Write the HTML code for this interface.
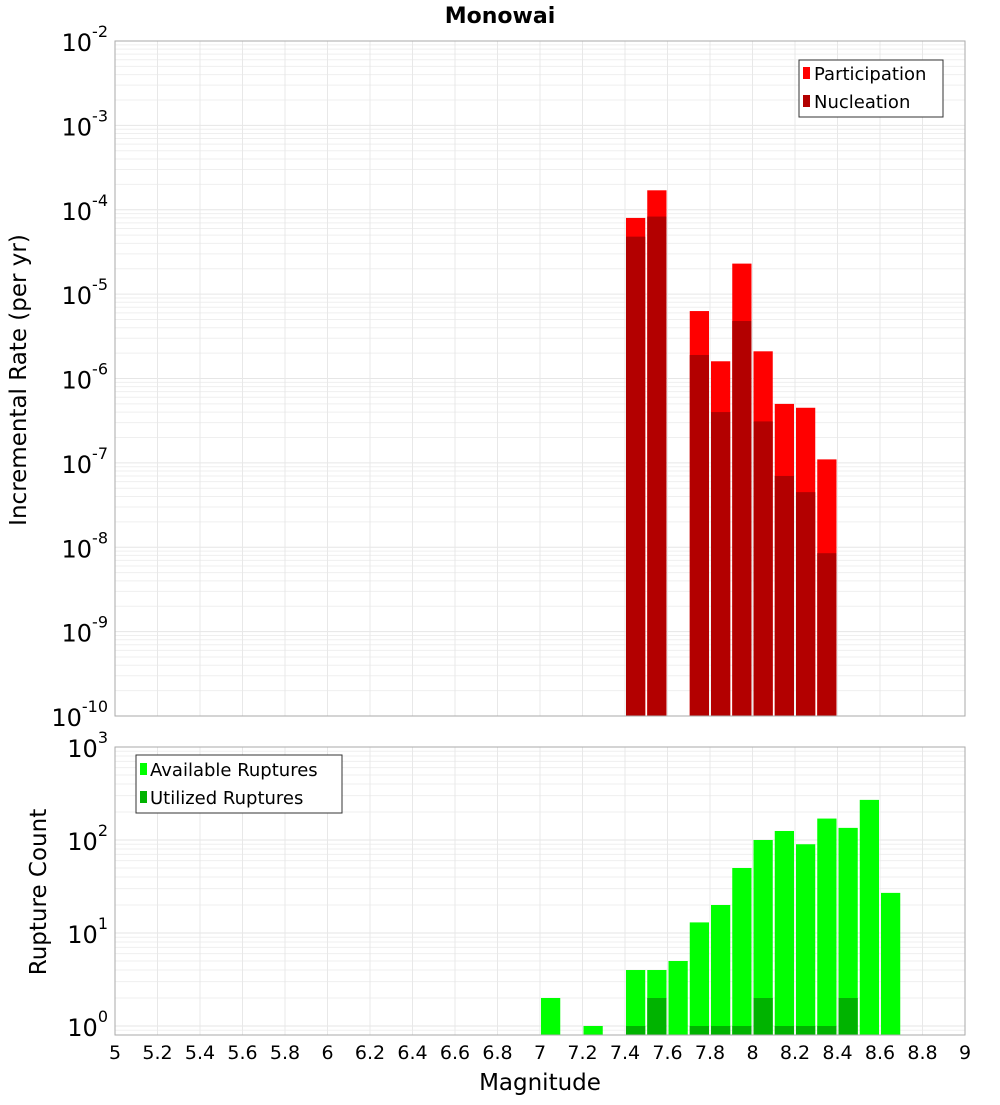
<!DOCTYPE html>
<html><head><meta charset="utf-8"><style>
body{margin:0;background:#fff;font-family:"Liberation Sans","DejaVu Sans",sans-serif}
svg text{font-family:"DejaVu Sans","Liberation Sans",sans-serif}
</style></head><body>
<svg id="c" width="1000" height="1100" xmlns="http://www.w3.org/2000/svg"></svg>
<script>
const mags=[7.05,7.25,7.45,7.55,7.65,7.75,7.85,7.95,8.05,8.15,8.25,8.35,8.45,8.55,8.65];
const topMags=[7.45,7.55,7.75,7.85,7.95,8.05,8.15,8.25,8.35];
const participation=[8e-5,1.7e-4,6.3e-6,1.6e-6,2.3e-5,2.1e-6,5e-7,4.5e-7,1.1e-7];
const nucleation=[4.8e-5,8.3e-5,1.9e-6,4e-7,4.8e-6,3.1e-7,7e-8,4.5e-8,8.5e-9];
const available=[2,1,4,4,5,13,20,50,100,125,90,170,135,270,27];
const utilized=[0,0,1,2,0,1,1,1,2,1,1,1,2,0,0];
const xTicks=[5,5.2,5.4,5.6,5.8,6,6.2,6.4,6.6,6.8,7,7.2,7.4,7.6,7.8,8,8.2,8.4,8.6,8.8,9];
const topExps=[-2,-3,-4,-5,-6,-7,-8,-9,-10];
const botExps=[3,2,1,0];

const S=document.getElementById('c'),NS='http://www.w3.org/2000/svg';
function el(t,a,txt){const e=document.createElementNS(NS,t);for(const k in a)e.setAttribute(k,a[k]);if(txt!==undefined)e.textContent=txt;S.appendChild(e);return e;}
const X0=115,X1=965;
const x=m=>X0+(m-5)/4*(X1-X0);
const T0=41,T1=716;
const yT=v=>T0+(-2-Math.log10(v))*(T1-T0)/8;
const B0=747,B1=1035,BD=93;
const yB=v=>B0+(3-Math.log10(v))*BD;

function grid(top,bot,yf,lo,hi){
  for(let e=lo;e<hi;e++)for(let k=1;k<10;k++){const y=yf(k*Math.pow(10,e));if(y>=top&&y<=bot){const g=el('line',{x1:X0,x2:X1,y1:y,y2:y,stroke:k==1?'#e6e6e6':'#efefef','stroke-width':1});}}
  xTicks.forEach(t=>{const g=el('line',{x1:x(t),x2:x(t),y1:top,y2:bot,stroke:'#e8e8e8'});});
}
grid(T0,T1,yT,-10,-1);
grid(B0,B1,yB,-1,3);

el('text',{x:500,y:23,'text-anchor':'middle','font-size':22,'font-weight':'bold',},'Monowai');

const bw=(x(5.1)-x(5))-2;
topMags.forEach((m,i)=>{
  const l=x(m-0.05)+1;
  const r=el('rect',{x:l,y:yT(participation[i]),width:bw,height:T1-yT(participation[i]),fill:'#ff0000'});
  
  const n=el('rect',{x:l,y:yT(nucleation[i]),width:bw,height:T1-yT(nucleation[i]),fill:'#b30000'});
  
});
mags.forEach((m,i)=>{
  const l=x(m-0.05)+1;
  if(available[i]>0){const r=el('rect',{x:l,y:yB(available[i]),width:bw,height:B1-yB(available[i]),fill:'#00ff00'});
  }
  if(utilized[i]>0){const n=el('rect',{x:l,y:yB(utilized[i]),width:bw,height:B1-yB(utilized[i]),fill:'#00b300'});
  }
});
el('rect',{x:X0,y:T0,width:X1-X0,height:T1-T0,fill:'none',stroke:'#aaa',});
el('rect',{x:X0,y:B0,width:X1-X0,height:B1-B0,fill:'none',stroke:'#aaa',});

function ylab(e,y){const t=el('text',{x:108,y:y+10,'text-anchor':'end','font-size':24});
 
 t.innerHTML='10<tspan dy="-14" font-size="16">'+e+'</tspan>';}
topExps.forEach(e=>ylab(e,yT(Math.pow(10,e))));
botExps.forEach(e=>ylab(e,yB(Math.pow(10,e))));
xTicks.forEach(t=>{const s=el('text',{x:x(t),y:1059,'text-anchor':'middle','font-size':19},String(t));
 });
el('text',{x:540,y:1090,'text-anchor':'middle','font-size':23,},'Magnitude');
el('text',{x:0,y:0,transform:'translate(26,380) rotate(-90)','text-anchor':'middle','font-size':23,},'Incremental Rate (per yr)');
el('text',{x:0,y:0,transform:'translate(46,892) rotate(-90)','text-anchor':'middle','font-size':23,},'Rupture Count');

el('rect',{x:799,y:60,width:144,height:57,fill:'#fff',stroke:'#333',});
el('rect',{x:803,y:67,width:7,height:12,fill:'#ff0000',});
el('text',{x:814,y:80,'font-size':18,},'Participation');
el('rect',{x:803,y:95,width:7,height:12,fill:'#b30000',});
el('text',{x:814,y:108,'font-size':18,},'Nucleation');
el('rect',{x:136,y:755,width:206,height:58,fill:'#fff',stroke:'#333',});
el('rect',{x:140,y:763,width:7,height:12,fill:'#00ff00',});
el('text',{x:150,y:776,'font-size':18,},'Available Ruptures');
el('rect',{x:140,y:791,width:7,height:12,fill:'#00b300',});
el('text',{x:150,y:804,'font-size':18,},'Utilized Ruptures');
</script>
</body></html>
